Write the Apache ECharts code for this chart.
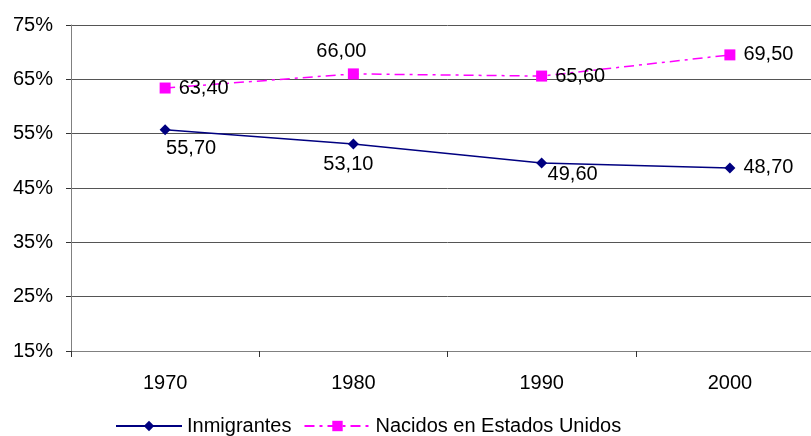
<!DOCTYPE html>
<html>
<head>
<meta charset="utf-8">
<script src="https://cdn.jsdelivr.net/npm/echarts@6/dist/echarts.min.js"></script>
<style>
  html, body { margin: 0; padding: 0; background: #fff; overflow: hidden; }
  /* drawing surface is a little wider than the window so the plot runs off the right edge */
  #chart { width: 824px; height: 436px; }
</style>
</head>
<body>
<div id="chart"></div>
<script>
// Census decades and share values (%) for each population group
const years = ['1970', '1980', '1990', '2000'];
const inmigrantes = [55.7, 53.1, 49.6, 48.7];
const nacidos = [63.4, 66.0, 65.6, 69.5];
const yTicks = [15, 25, 35, 45, 55, 65, 75];

const FONT = 'Liberation Sans, Arial, sans-serif';
const FS = 20;
const fmt = v => v.toFixed(2).replace('.', ',');

// Per-point label placement around each marker
const inmLabels = [
  { position: 'bottom', distance: 3, offset: [26, 0] },
  { position: 'bottom', distance: 5, offset: [-5, 0] },
  { position: 'bottom', distance: 0, offset: [31, -4] },
  { position: 'right', distance: 8, offset: [0, 0] }
];
const nacLabels = [
  { position: 'right', distance: 8, offset: [0, 0] },
  { position: 'top', distance: 7, offset: [-12, 0] },
  { position: 'right', distance: 8, offset: [0, 0] },
  { position: 'right', distance: 8, offset: [0, 0] }
];

function withLabels(values, placements) {
  return values.map((v, i) => ({
    value: v,
    label: {
      show: true,
      position: placements[i].position,
      distance: placements[i].distance,
      offset: placements[i].offset,
      formatter: p => fmt(p.value),
      color: '#000',
      fontSize: FS,
      fontFamily: FONT
    }
  }));
}

const chart = echarts.init(document.getElementById('chart'));
chart.setOption({
  animation: false,
  backgroundColor: '#fff',
  grid: { left: 71, top: 25, right: 0, height: 326, containLabel: false },
  legend: {
    left: 110,
    top: 411,
    itemWidth: 66,
    itemHeight: 13,
    itemGap: 12,
    textStyle: { fontSize: FS, fontFamily: FONT, color: '#000' },
    data: ['Inmigrantes', 'Nacidos en Estados Unidos']
  },
  xAxis: {
    type: 'category',
    data: years,
    boundaryGap: true,
    axisLine: { lineStyle: { color: '#808080', width: 1 } },
    axisTick: { show: true, length: 6, lineStyle: { color: '#333' } },
    axisLabel: { margin: 22, fontSize: FS, fontFamily: FONT, color: '#000' },
    splitLine: { show: false }
  },
  yAxis: {
    type: 'value',
    min: yTicks[0],
    max: yTicks[yTicks.length - 1],
    interval: 10,
    axisLine: { show: true, lineStyle: { color: '#808080', width: 1 } },
    axisTick: { show: true, length: 5, lineStyle: { color: '#333' } },
    axisLabel: {
      margin: 18,
      fontSize: FS,
      fontFamily: FONT,
      color: '#000',
      formatter: v => v + '%'
    },
    splitLine: { show: true, lineStyle: { color: '#555', width: 1 } }
  },
  series: [
    {
      name: 'Inmigrantes',
      type: 'line',
      data: withLabels(inmigrantes, inmLabels),
      symbol: 'diamond',
      symbolSize: 11,
      itemStyle: { color: '#000080' },
      lineStyle: { color: '#000080', width: 1.5, type: 'solid' },
      z: 3
    },
    {
      name: 'Nacidos en Estados Unidos',
      type: 'line',
      data: withLabels(nacidos, nacLabels),
      symbol: 'rect',
      symbolSize: 11,
      itemStyle: { color: '#FF00FF' },
      lineStyle: { color: '#FF00FF', width: 1.5, type: [10, 5, 3, 5] },
      z: 3
    }
  ]
});
</script>
</body>
</html>
